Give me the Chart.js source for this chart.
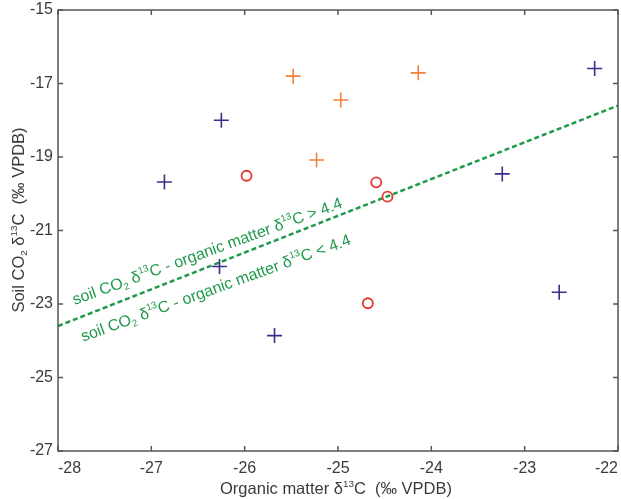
<!DOCTYPE html>
<html>
<head>
<meta charset="utf-8">
<script src="https://cdn.jsdelivr.net/npm/chart.js@4"></script>
<style>
  body { margin: 0; background: #fff; }
  canvas { display: block; }
</style>
</head>
<body>
<canvas id="chart" width="621" height="499"></canvas>
<script>
// data
const blueX = [-26.86, -26.25, -26.27, -25.68, -23.24, -22.25, -22.63];
const blueY = [-19.68, -18.0, -21.98, -23.86, -19.46, -16.59, -22.68];
const orangeX = [-25.48, -25.23, -24.97, -24.14];
const orangeY = [-16.80, -19.08, -17.45, -16.71];
const redX = [-25.98, -24.59, -24.47, -24.68];
const redY = [-19.51, -19.69, -20.08, -22.98];
const lineX = [-28, -22];
const lineY = [-23.6, -17.6];

const xMin = -28, xMax = -22, xStep = 1;
const yMin = -27, yMax = -15, yStep = 2;

const AXIS = "#555";
const TEXT = "#3a3a3a";
const GREEN = "#1f9a4c";
const FONT = "Arial, 'Liberation Sans'";

function pts(xs, ys) {
  return xs.map((x, i) => ({ x: x, y: ys[i] }));
}

// draw text made of pieces, some of them sub/superscript
function richWidth(ctx, parts, size) {
  let w = 0;
  parts.forEach(p => {
    ctx.font = (p.s ? size * 0.6 : size) + "px " + FONT;
    w += ctx.measureText(p.t).width;
  });
  return w;
}
function drawRich(ctx, parts, size, x, y) {
  let cx = x;
  parts.forEach(p => {
    ctx.font = (p.s ? size * 0.6 : size) + "px " + FONT;
    let dy = 0;
    if (p.s === "sup") dy = -size * 0.45;
    if (p.s === "sub") dy = size * 0.2;
    ctx.fillText(p.t, cx, y + dy);
    cx += ctx.measureText(p.t).width;
  });
}

const yTitle = [{ t: "Soil CO" }, { t: "2", s: "sub" }, { t: " \u03b4" }, { t: "13", s: "sup" }, { t: "C  (\u2030 VPDB)" }];
const xTitle = [{ t: "Organic matter \u03b4" }, { t: "13", s: "sup" }, { t: "C  (\u2030 VPDB)" }];
const upperLabel = [{ t: "soil CO" }, { t: "2", s: "sub" }, { t: " \u03b4" }, { t: "13", s: "sup" }, { t: "C - organic matter \u03b4" }, { t: "13", s: "sup" }, { t: "C > 4.4" }];
const lowerLabel = [{ t: "soil CO" }, { t: "2", s: "sub" }, { t: " \u03b4" }, { t: "13", s: "sup" }, { t: "C - organic matter \u03b4" }, { t: "13", s: "sup" }, { t: "C < 4.4" }];

const frame = {
  id: "frame",
  afterDraw(chart) {
    const ctx = chart.ctx;
    const a = chart.chartArea;
    const xs = chart.scales.x, ys = chart.scales.y;
    ctx.save();
    ctx.strokeStyle = AXIS;
    ctx.lineWidth = 1.5;
    ctx.strokeRect(a.left, a.top, a.right - a.left, a.bottom - a.top);
    // inward ticks on all sides
    ctx.beginPath();
    for (let v = xMin; v <= xMax; v += xStep) {
      const px = xs.getPixelForValue(v);
      ctx.moveTo(px, a.bottom); ctx.lineTo(px, a.bottom - 5);
      ctx.moveTo(px, a.top); ctx.lineTo(px, a.top + 5);
    }
    for (let v = yMin; v <= yMax; v += yStep) {
      const py = ys.getPixelForValue(v);
      ctx.moveTo(a.left, py); ctx.lineTo(a.left + 5, py);
      ctx.moveTo(a.right, py); ctx.lineTo(a.right - 5, py);
    }
    ctx.stroke();

    // axis titles
    ctx.fillStyle = TEXT;
    ctx.textBaseline = "alphabetic";
    const fs = 16.5;
    let w = richWidth(ctx, xTitle, fs);
    drawRich(ctx, xTitle, fs, 336 - w / 2, 494);
    w = richWidth(ctx, yTitle, fs);
    ctx.save();
    ctx.translate(24, 220);
    ctx.rotate(-Math.PI / 2);
    drawRich(ctx, yTitle, fs, -w / 2, 0);
    ctx.restore();

    // labels along the dashed line
    ctx.fillStyle = GREEN;
    const ang = -20 * Math.PI / 180;
    [[upperLabel, -27.82, -23.03], [lowerLabel, -27.73, -24.03]].forEach(l => {
      ctx.save();
      ctx.translate(xs.getPixelForValue(l[1]), ys.getPixelForValue(l[2]));
      ctx.rotate(ang);
      drawRich(ctx, l[0], 16, 0, 0);
      ctx.restore();
    });
    ctx.restore();
  }
};

new Chart(document.getElementById("chart"), {
  type: "scatter",
  data: {
    datasets: [
      {
        data: pts(blueX, blueY),
        pointStyle: "cross", pointRadius: 7.5, pointHoverRadius: 7.5,
        borderColor: "#3d2c8d", borderWidth: 1.6, order: 1
      },
      {
        data: pts(orangeX, orangeY),
        pointStyle: "cross", pointRadius: 7.5, pointHoverRadius: 7.5,
        borderColor: "#f2803c", borderWidth: 1.6, order: 1
      },
      {
        data: pts(redX, redY),
        pointStyle: "circle", pointRadius: 5, pointHoverRadius: 5,
        borderColor: "#e2352b", backgroundColor: "rgba(0,0,0,0)", borderWidth: 1.8, order: 1
      },
      {
        type: "line",
        data: pts(lineX, lineY),
        borderColor: GREEN, borderWidth: 2.5, borderDash: [5, 3],
        pointRadius: 0, fill: false, order: 5
      }
    ]
  },
  options: {
    responsive: false,
    animation: false,
    events: [],
    layout: { autoPadding: false, padding: { top: 10, right: 3 } },
    plugins: { legend: { display: false }, tooltip: { enabled: false } },
    scales: {
      x: {
        type: "linear", min: xMin, max: xMax,
        afterFit(s) { s.height = 48; s.paddingLeft = 0; s.paddingRight = 0; },
        grid: { display: false, drawTicks: false },
        border: { display: false },
        ticks: { stepSize: xStep, align: "inner", color: TEXT, padding: 8, font: { size: 16, family: FONT } }
      },
      y: {
        type: "linear", min: yMin, max: yMax,
        afterFit(s) { s.width = 58; s.paddingTop = 0; s.paddingBottom = 0; },
        grid: { display: false, drawTicks: false },
        border: { display: false },
        ticks: { stepSize: yStep, align: "inner", color: TEXT, padding: 5, font: { size: 16, family: FONT } }
      }
    }
  },
  plugins: [frame]
});
</script>
</body>
</html>
